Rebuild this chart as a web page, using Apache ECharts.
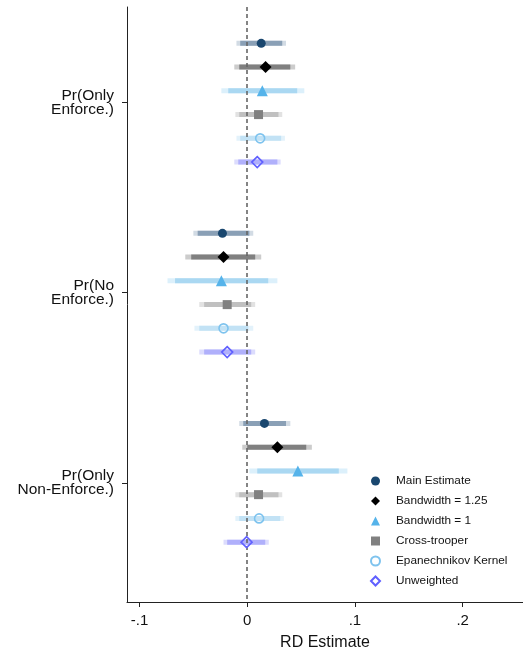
<!DOCTYPE html>
<html>
<head>
<meta charset="utf-8">
<script src="https://cdn.jsdelivr.net/npm/echarts@6/dist/echarts.min.js"></script>
<style>
  html, body { margin: 0; padding: 0; background: #fff; }
  #chart { width: 523px; height: 656px; }
</style>
</head>
<body>
<div id="chart"></div>
<script>
// Outcomes (one block of estimates each), top to bottom
const outcomes = ['Pr(Only\nEnforce.)', 'Pr(No\nEnforce.)', 'Pr(Only\nNon-Enforce.)'];

// Specifications, in the order they are stacked inside each block
const methods = ['Main Estimate', 'Bandwidth = 1.25', 'Bandwidth = 1',
                 'Cross-trooper', 'Epanechnikov Kernel', 'Unweighted'];

// Per outcome: [estimate, 95% low, 90% low, 90% high, 95% high]
const mainEstimate = [
  [0.013,  -0.010,  -0.0065, 0.0325, 0.036],
  [-0.023, -0.050,  -0.046,  0.002,  0.0056],
  [0.016,  -0.0074, -0.0037, 0.036,  0.040]
];
const bandwidth125 = [
  [0.017,  -0.012,  -0.0074, 0.040,  0.0445],
  [-0.022, -0.0575, -0.052,  0.0074, 0.013],
  [0.028,  -0.0046, 0.000,   0.0548, 0.060]
];
const bandwidth1 = [
  [0.014,  -0.024,  -0.0176, 0.0464, 0.053],
  [-0.024, -0.074,  -0.067,  0.0195, 0.028],
  [0.047,  0.002,   0.0093,  0.085,  0.093]
];
const crossTrooper = [
  [0.0105, -0.011,  -0.0074, 0.029,  0.0325],
  [-0.0186, -0.0445, -0.040, 0.0037, 0.0074],
  [0.0105, -0.011,  -0.0074, 0.029,  0.0325]
];
const epanechnikov = [
  [0.012,  -0.010,  -0.0065, 0.0315, 0.035],
  [-0.022, -0.049,  -0.0445, 0.001,  0.0056],
  [0.011,  -0.011,  -0.0074, 0.0306, 0.034]
];
const unweighted = [
  [0.0093, -0.012,  -0.0083, 0.028,  0.031],
  [-0.0186, -0.0445, -0.040, 0.0037, 0.0074],
  [-0.0006, -0.022, -0.0186, 0.0167, 0.020]
];

// x-axis tick labels
const xTicks = [-0.1, 0, 0.1, 0.2];
const xTickText = ['-.1', '0', '.1', '.2'];

const results = [mainEstimate, bandwidth125, bandwidth1, crossTrooper, epanechnikov, unweighted];

// Marker and interval styling per specification
const styles = [
  { symbol: 'circle',  size: 9,  fill: '#1a476f', stroke: null,      inner: '#8aa0b6', outer: '#d2dbe4' },
  { symbol: 'diamond', size: 12, fill: '#000000', stroke: null,      inner: '#808080', outer: '#cccccc' },
  { symbol: 'triangle',size: 11, fill: '#55b3ea', stroke: null,      inner: '#aad8f2', outer: '#dcf0fb' },
  { symbol: 'rect',    size: 9,  fill: '#808080', stroke: null,      inner: '#c0c0c0', outer: '#e2e2e2' },
  { symbol: 'circle',  size: 9,  fill: 'rgba(0,0,0,0)', stroke: '#7ec3ee', inner: '#c2e2f5', outer: '#e3f2fb' },
  { symbol: 'diamond', size: 11, fill: 'rgba(0,0,0,0)', stroke: '#6060ff', inner: '#b0b0fb', outer: '#dcdcfd' }
];

const blockStride = methods.length + 2;   // rows per outcome block, incl. gap
const rowOf = (g, k) => g * blockStride + k;
const blockCenters = outcomes.map((_, g) => rowOf(g, (methods.length - 1) / 2));

const series = [];
results.forEach((rows, k) => {
  const st = styles[k];
  series.push({
    name: methods[k] + ' CI',
    type: 'custom',
    z: 2,
    silent: true,
    encode: { x: [0, 1, 2, 3], y: 4 },
    data: rows.map((r, g) => [r[1], r[2], r[3], r[4], rowOf(g, k)]),
    renderItem(params, api) {
      const y = api.value(4);
      const a = api.coord([api.value(0), y]);
      const b = api.coord([api.value(3), y]);
      const c = api.coord([api.value(1), y]);
      const d = api.coord([api.value(2), y]);
      const h = 5;
      return {
        type: 'group',
        children: [
          { type: 'rect', shape: { x: a[0], y: a[1] - h / 2, width: b[0] - a[0], height: h },
            style: { fill: st.outer } },
          { type: 'rect', shape: { x: c[0], y: c[1] - h / 2, width: d[0] - c[0], height: h },
            style: { fill: st.inner } }
        ]
      };
    }
  });
});

results.forEach((rows, k) => {
  const st = styles[k];
  series.push({
    name: methods[k],
    type: 'scatter',
    z: 5,
    symbol: st.symbol,
    symbolSize: st.size,
    itemStyle: st.stroke
      ? { color: st.fill, borderColor: st.stroke, borderWidth: 1.6, opacity: 1 }
      : { color: st.fill, opacity: 1 },
    emphasis: { disabled: true },
    data: rows.map((r, g) => [r[0], rowOf(g, k)])
  });
});

// Dashed reference line at zero
series.push({
  name: 'zero',
  type: 'line',
  data: [],
  z: 3,
  markLine: {
    silent: true,
    symbol: 'none',
    label: { show: false },
    lineStyle: { color: '#666666', type: [4, 3], width: 1.6 },
    data: [{ xAxis: 0 }]
  }
});

const chart = echarts.init(document.getElementById('chart'), null, { renderer: 'canvas' });
chart.setOption({
  animation: false,
  backgroundColor: '#ffffff',
  textStyle: { fontFamily: 'Liberation Sans, Arial, Helvetica, sans-serif' },
  grid: { left: 127, right: 0, top: 7, bottom: 54, containLabel: false },
  xAxis: {
    type: 'value',
    min: -0.1116,
    max: 0.2560,
    splitLine: { show: false },
    axisLine: { show: true, onZero: false, lineStyle: { color: '#222', width: 1 } },
    axisTick: { show: true, length: 5, customValues: xTicks, lineStyle: { color: '#222' } },
    axisLabel: {
      customValues: xTicks,
      margin: 11,
      fontSize: 15,
      color: '#111',
      formatter: v => xTickText[xTicks.findIndex(t => Math.abs(t - v) < 1e-9)]
    },
    name: 'RD Estimate',
    nameLocation: 'middle',
    nameGap: 33,
    nameTextStyle: { fontSize: 16, color: '#111' }
  },
  yAxis: {
    type: 'value',
    inverse: true,
    min: -1.53,
    max: 23.52,
    splitLine: { show: false },
    axisLine: { show: true, onZero: false, lineStyle: { color: '#222', width: 1 } },
    axisTick: { show: true, length: 5, customValues: blockCenters, lineStyle: { color: '#222' } },
    axisLabel: {
      customValues: blockCenters,
      margin: 13,
      fontSize: 15.5,
      lineHeight: 13.5,
      color: '#111',
      align: 'right',
      padding: [0, 0, 6, 0],
      formatter: v => outcomes[blockCenters.findIndex(c => Math.abs(c - v) < 1e-9)]
    }
  },
  legend: {
    orient: 'vertical',
    left: 370,
    top: 475,
    padding: 0,
    itemWidth: 9,
    itemHeight: 9,
    itemGap: 8,
    selectedMode: false,
    data: methods,
    textStyle: { fontSize: 11.8, color: '#111', lineHeight: 9, padding: [0, 0, 0, 11] }
  },
  series: series
});
</script>
</body>
</html>
